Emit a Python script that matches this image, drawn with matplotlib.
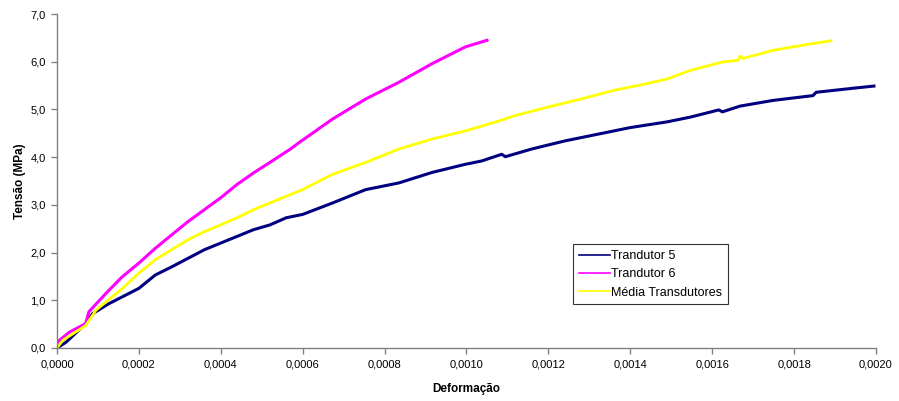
import matplotlib
matplotlib.use("Agg")
import matplotlib.pyplot as plt
from matplotlib.ticker import FuncFormatter, MultipleLocator

plt.rcParams["font.family"] = ["Liberation Sans", "DejaVu Sans"]

# Trandutor 5
def5 = [0.0, 0.000022, 0.000070, 0.000087, 0.000127, 0.000159, 0.000200, 0.000240,
        0.000280, 0.000320, 0.000360, 0.000400, 0.000440, 0.000480, 0.000520,
        0.000560, 0.000600, 0.000673, 0.000754, 0.000835, 0.000916, 0.000997,
        0.001037, 0.001086, 0.001095, 0.001159, 0.001240, 0.001320, 0.001400,
        0.001490, 0.001547, 0.001616, 0.001625, 0.001668, 0.001749, 0.001846,
        0.001854, 0.001950, 0.001995]
ten5 = [0.0, 0.12, 0.51, 0.72, 0.93, 1.07, 1.25, 1.53,
        1.70, 1.88, 2.06, 2.20, 2.34, 2.48, 2.58,
        2.73, 2.80, 3.04, 3.32, 3.46, 3.68, 3.85,
        3.92, 4.06, 4.01, 4.17, 4.34, 4.48, 4.62,
        4.74, 4.84, 4.99, 4.95, 5.07, 5.19, 5.29,
        5.36, 5.45, 5.49]

# Trandutor 6
def6 = [0.0, 0.000006, 0.000030, 0.000070, 0.000078, 0.000119, 0.000159, 0.000200,
        0.000240, 0.000280, 0.000320, 0.000360, 0.000400, 0.000440, 0.000480,
        0.000520, 0.000570, 0.000592, 0.000673, 0.000754, 0.000835, 0.000916,
        0.000997, 0.001050]
ten6 = [0.0, 0.16, 0.33, 0.51, 0.76, 1.14, 1.49, 1.78,
        2.09, 2.37, 2.65, 2.90, 3.15, 3.43, 3.67,
        3.89, 4.17, 4.31, 4.80, 5.22, 5.57, 5.96,
        6.31, 6.45]

# Média Transdutores
defm = [0.0, 0.000014, 0.000070, 0.000095, 0.000120, 0.000160, 0.000200, 0.000240,
        0.000280, 0.000320, 0.000360, 0.000400, 0.000440, 0.000480, 0.000520,
        0.000560, 0.000600, 0.000673, 0.000754, 0.000835, 0.000916, 0.000997,
        0.001080, 0.001118, 0.001199, 0.001280, 0.001360, 0.001440, 0.001490,
        0.001547, 0.001628, 0.001664, 0.001668, 0.001675, 0.001749, 0.001830,
        0.001890]
tenm = [0.0, 0.16, 0.47, 0.79, 0.97, 1.25, 1.57, 1.85,
        2.06, 2.27, 2.44, 2.58, 2.73, 2.90, 3.04,
        3.18, 3.32, 3.64, 3.89, 4.17, 4.38, 4.55,
        4.76, 4.87, 5.05, 5.22, 5.40, 5.54, 5.64,
        5.82, 6.00, 6.03, 6.12, 6.07, 6.24, 6.36,
        6.44]

x_ticks = [0.0000, 0.0002, 0.0004, 0.0006, 0.0008, 0.0010,
           0.0012, 0.0014, 0.0016, 0.0018, 0.0020]

fig = plt.figure(figsize=(8.99, 4.01), dpi=100)
ax = fig.add_axes([0.0634, 0.1322, 0.9110, 0.8328])

ax.plot(def5, ten5, color="#000080", lw=2.2, label="Trandutor 5")
ax.plot(def6, ten6, color="#FF00FF", lw=2.2, label="Trandutor 6")
ax.plot(defm, tenm, color="#FFFF00", lw=2.0, label="Média Transdutores")

ax.set_xlim(0, 0.0020)
ax.set_ylim(0, 7.0)
ax.set_xticks(x_ticks)
ax.yaxis.set_major_locator(MultipleLocator(1.0))
ax.xaxis.set_major_formatter(FuncFormatter(lambda v, p: f"{v:.4f}".replace(".", ",")))
ax.yaxis.set_major_formatter(FuncFormatter(lambda v, p: f"{v:.1f}".replace(".", ",")))

for side in ("top", "right"):
    ax.spines[side].set_visible(False)
for side in ("left", "bottom"):
    ax.spines[side].set_color("#808080")
    ax.spines[side].set_linewidth(1.0)
ax.tick_params(direction="out", length=4, width=1, color="#808080",
               labelsize=8, labelcolor="black", pad=4)

ax.set_xlabel("Deformação", fontsize=8.5, fontweight="bold", labelpad=10)
ax.set_ylabel("Tensão (MPa)", fontsize=8.5, fontweight="bold", labelpad=3)

leg = ax.legend(loc="upper left", bbox_to_anchor=(0.630, 0.310), fontsize=9,
                frameon=True, fancybox=False, handlelength=2.5, handletextpad=0.1,
                borderpad=0.45, labelspacing=0.5, borderaxespad=0)
leg.get_frame().set_edgecolor("black")
leg.get_frame().set_linewidth(0.8)
for h in leg.get_lines():
    h.set_linewidth(1.2)

fig.savefig("out.png", dpi=100)
